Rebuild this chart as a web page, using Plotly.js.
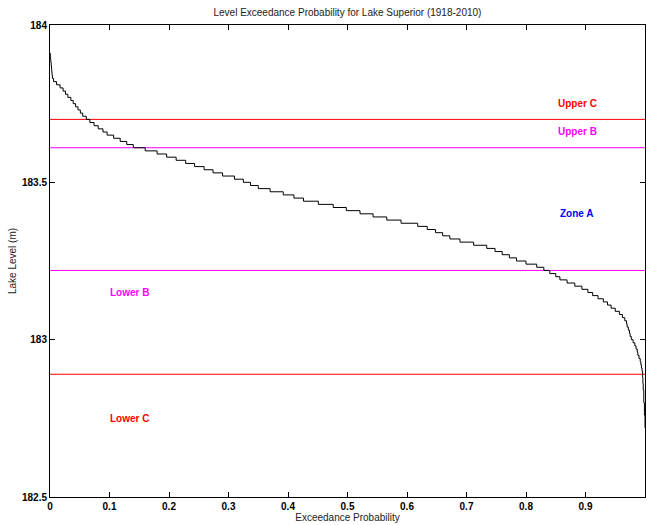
<!DOCTYPE html>
<html>
<head>
<meta charset="utf-8">
<script src="https://cdn.plot.ly/plotly-3.0.1.min.js"></script>
<style>html,body{margin:0;padding:0;background:#fff;}#chart{width:647px;height:525px;}</style>
</head>
<body>
<div id="chart"></div>
<script>
// Lake level (m) per cm step and exceedance probability
var levels = [183.91,183.90,183.89,183.88,183.87,183.86,183.85,183.84,183.83,183.82,183.81,
  183.80,183.79,183.78,183.77,183.76,183.75,183.74,183.73,183.72,183.71,
  183.70,183.69,183.68,183.67,183.66,183.65,183.64,183.63,183.62,183.61,
  183.60,183.59,183.58,183.57,183.56,183.55,183.54,183.53,183.52,183.51,
  183.50,183.49,183.48,183.47,183.46,183.45,183.44,183.43,183.42,183.41,
  183.40,183.39,183.38,183.37,183.36,183.35,183.34,183.33,183.32,183.31,
  183.30,183.29,183.28,183.27,183.26,183.25,183.24,183.23,183.22,183.21,
  183.20,183.19,183.18,183.17,183.16,183.15,183.14,183.13,183.12,183.11,
  183.10,183.09,183.08,183.07,183.06,183.05,183.04,183.03,183.02,183.01,
  183.00,182.99,182.98,182.97,182.96,182.95,182.94,182.93,182.92,182.91,
  182.90,182.88,182.86,182.84,182.80,182.76,182.72];
var exceedance = [0.000,0.0005,0.001,0.0015,0.002,0.0025,0.003,0.0035,0.004,0.006,0.011,
  0.017,0.022,0.026,0.030,0.035,0.039,0.043,0.047,0.051,0.055,
  0.061,0.067,0.074,0.081,0.089,0.096,0.107,0.118,0.129,0.140,
  0.160,0.180,0.196,0.212,0.228,0.243,0.259,0.274,0.290,0.310,
  0.325,0.337,0.350,0.370,0.392,0.410,0.426,0.451,0.476,0.498,
  0.521,0.543,0.566,0.590,0.618,0.634,0.648,0.660,0.672,0.689,
  0.712,0.734,0.748,0.760,0.772,0.784,0.800,0.818,0.830,0.840,
  0.850,0.857,0.869,0.882,0.894,0.904,0.912,0.921,0.930,0.937,
  0.943,0.950,0.957,0.962,0.966,0.969,0.970,0.972,0.974,0.975,
  0.977,0.980,0.983,0.985,0.987,0.988,0.990,0.992,0.993,0.994,
  0.995,0.996,0.9965,0.997,0.998,0.999,1.000];

// Zone boundary levels
var zoneNames  = ["Upper C","Upper B","Lower B","Lower C"];
var zoneLevels = [183.70, 183.61, 183.22, 182.89];
var zoneColors = ["#ff0000","#ff00ff","#ff00ff","#ff0000"];

// Zone labels
var labelText   = ["Upper C","Upper B","Zone A","Lower B","Lower C"];
var labelX      = [0.886, 0.886, 0.886, 0.133, 0.133];
var labelY      = [183.75, 183.66, 183.40, 183.15, 182.75];
var labelColors = ["#ff0000","#ff00ff","#0000ff","#ff00ff","#ff0000"];

var xTicks = [0,0.1,0.2,0.3,0.4,0.5,0.6,0.7,0.8,0.9,1];
var xTickText = ["0","0.1","0.2","0.3","0.4","0.5","0.6","0.7","0.8","0.9","1"];
var yTicks = [182.5,183,183.5,184];
var yTickText = ["182.5","183","183.5","184"];

var traces = [];
for (var i = 0; i < zoneLevels.length; i++) {
  traces.push({
    x: [0, 1], y: [zoneLevels[i], zoneLevels[i]],
    mode: "lines", type: "scatter", name: zoneNames[i],
    line: {color: zoneColors[i], width: 1}, hoverinfo: "skip"
  });
}
traces.push({
  x: exceedance, y: levels, mode: "lines", type: "scatter",
  line: {color: "#000000", width: 1, shape: "hv"}, name: "Exceedance"
});

var annotations = [];
for (var j = 0; j < labelText.length; j++) {
  annotations.push({
    x: labelX[j], y: labelY[j], xref: "x", yref: "y",
    text: labelText[j], showarrow: false,
    font: {family: "Liberation Sans, Arial, sans-serif", size: 10, color: labelColors[j], weight: "bold"}
  });
}

var tickFont = {family: "Liberation Sans, Arial, sans-serif", size: 10, color: "#000", weight: "bold"};

var layout = {
  width: 647, height: 525,
  margin: {l: 50, r: 2, t: 25, b: 28},
  paper_bgcolor: "#ffffff", plot_bgcolor: "#ffffff",
  showlegend: false,
  title: {text: "Level Exceedance Probability for Lake Superior (1918-2010)",
          font: {family: "Liberation Sans, Arial, sans-serif", size: 10, color: "#222"},
          x: 0.537, xanchor: "center", y: 0.977, yanchor: "middle"},
  xaxis: {
    range: [0, 1], tickvals: xTicks, ticktext: xTickText,
    ticks: "inside", ticklen: 5, tickcolor: "#000", tickwidth: 1,
    showline: true, linecolor: "#000", linewidth: 1, mirror: "ticks",
    showgrid: false, zeroline: false, tickfont: tickFont,
    title: {text: "Exceedance Probability", standoff: 2,
            font: {family: "Liberation Sans, Arial, sans-serif", size: 10, color: "#222"}}
  },
  yaxis: {
    range: [182.5, 184], tickvals: yTicks, ticktext: yTickText,
    ticks: "inside", ticklen: 5, tickcolor: "#000", tickwidth: 1,
    showline: true, linecolor: "#000", linewidth: 1, mirror: "ticks",
    showgrid: false, zeroline: false, tickfont: tickFont,
    title: {text: "Lake Level (m)", standoff: 3,
            font: {family: "Liberation Sans, Arial, sans-serif", size: 10, color: "#222"}}
  },
  annotations: annotations
};

Plotly.newPlot("chart", traces, layout, {staticPlot: true, displayModeBar: false});
</script>
</body>
</html>
